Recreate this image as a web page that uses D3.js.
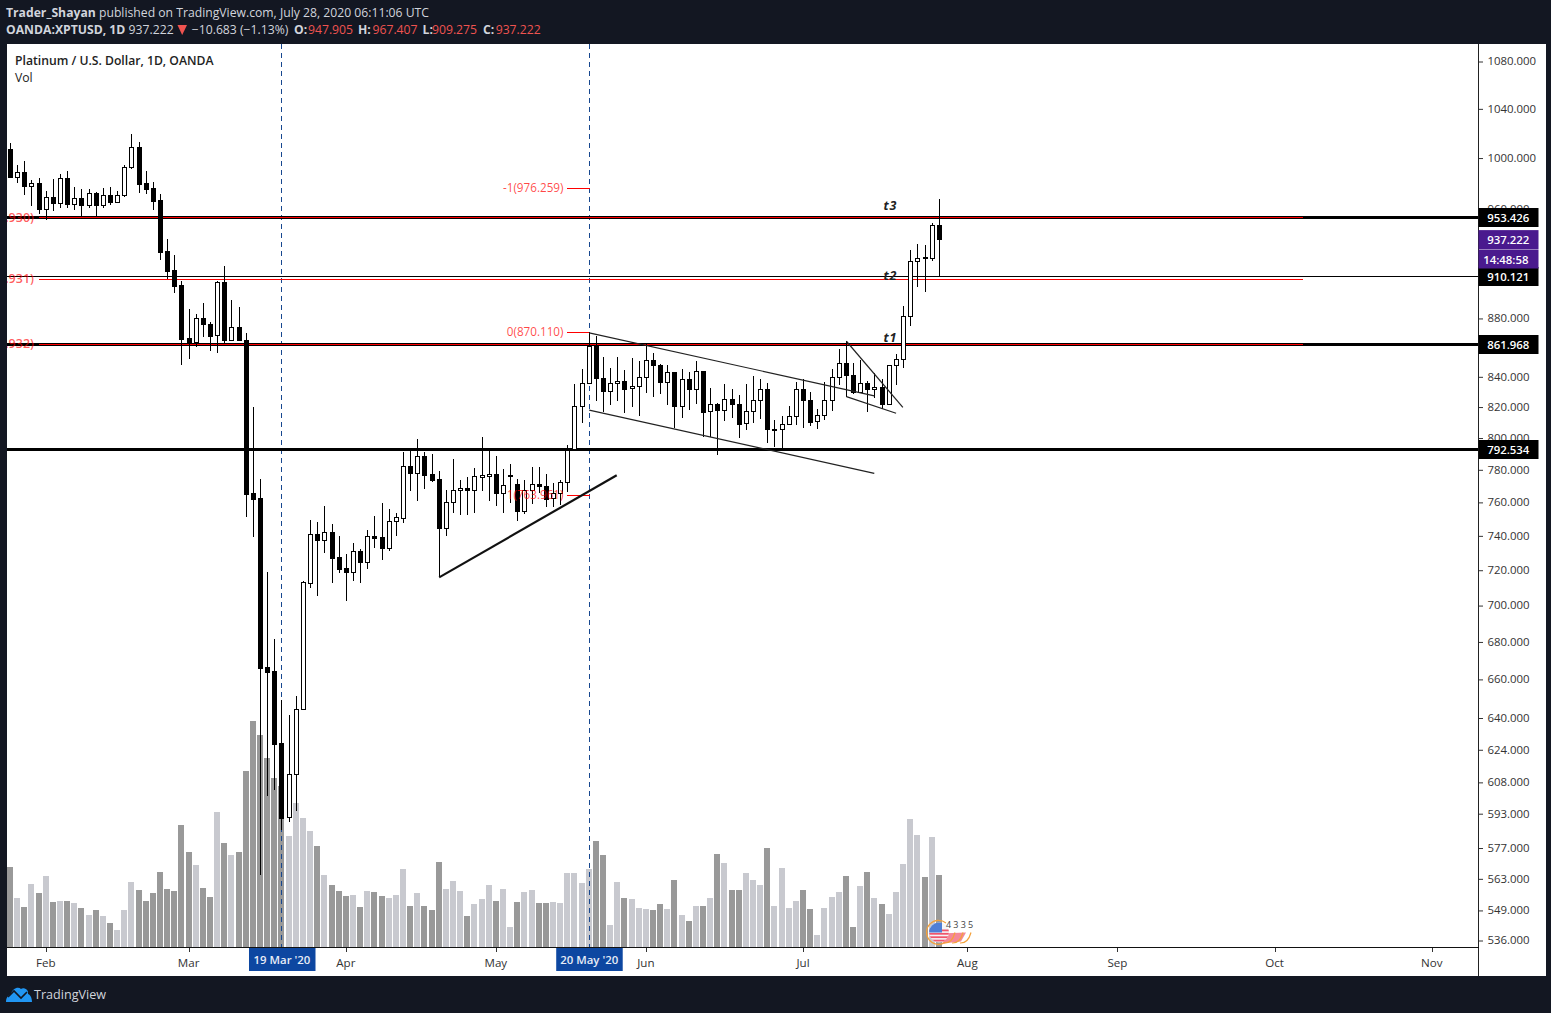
<!DOCTYPE html>
<html><head><meta charset="utf-8">
<script src="https://cdn.jsdelivr.net/npm/d3@7/dist/d3.min.js"></script>
<style>html,body{margin:0;padding:0;background:#131722;overflow:hidden}svg{display:block}text{font-family:"Open Sans",sans-serif}</style>
</head><body><svg id="c" width="1551" height="1013"></svg>
<script>
// daily bars, oldest first (27 Jan 2020 .. 28 Jul 2020)
const opens=[1006.6,984.9,988.4,977.9,979.7,960.1,968.8,964.7,983.6,963.9,968.1,963.1,971.9,963.1,970.4,965.4,970.4,992.3,1008.2,979.7,975.8,966.5,928.0,914.1,903.2,865.8,863.1,879.8,875.6,867.9,905.4,864.5,873.5,864.5,765.2,762.2,666.4,664.2,627.0,591.0,611.7,644.2,712.6,740.6,737.4,741.8,727.2,720.8,718.9,730.6,724.6,739.4,738.8,732.8,748.3,750.5,781.9,777.9,788.1,776.9,773.8,744.5,759.7,767.0,768.3,767.0,775.4,776.0,776.9,765.2,775.6,770.7,754.7,767.0,770.7,769.5,762.2,765.2,771.9,793.0,820.2,835.3,860.6,838.7,830.0,835.3,836.7,832.0,833.4,839.3,850.8,847.8,836.0,842.7,820.2,838.0,831.8,843.4,816.9,821.5,817.6,824.8,821.5,809.1,816.9,824.1,831.4,805.0,805.3,808.5,813.6,831.4,824.1,810.4,814.3,824.1,839.3,848.8,840.7,829.4,835.3,831.4,832.7,821.5,847.4,851.5,881.2,920.6,923.6,922.9,947.905];
const highs=[1011.5,993.9,997.0,982.0,983.6,973.7,982.8,986.8,989.1,976.6,975.0,975.0,972.7,975.8,976.6,973.5,993.9,1018.9,1012.3,989.1,980.5,971.2,936.9,925.1,906.1,886.1,882.6,890.5,877.0,906.1,917.0,892.5,887.5,869.3,819.5,773.8,718.5,681.1,649.0,641.1,650.9,713.7,748.9,747.7,757.3,746.5,739.4,728.9,735.3,731.8,743.0,751.3,759.1,755.5,753.1,790.6,791.5,798.9,790.6,789.4,778.8,767.0,786.2,773.2,775.0,780.6,800.1,791.7,788.1,780.0,783.1,773.8,773.2,781.2,781.6,776.9,771.3,773.2,795.1,834.7,844.7,870.2,867.4,852.8,845.4,852.8,844.0,852.1,850.1,861.9,855.6,848.2,847.4,843.0,844.7,842.7,850.1,843.8,832.0,822.1,834.7,831.4,827.8,834.7,840.0,838.0,835.3,811.0,813.6,820.2,836.4,838.0,829.4,818.2,836.0,844.7,858.3,863.8,848.8,850.8,836.7,842.0,838.0,847.6,855.1,888.2,928.8,933.2,932.5,949.0,967.407];
const lows=[984.4,980.2,970.9,962.1,956.3,951.7,958.3,960.6,960.6,959.1,954.0,960.6,954.0,960.6,963.1,964.7,969.3,991.2,972.4,971.6,959.3,921.6,907.7,897.9,847.8,851.9,860.1,866.9,857.3,856.0,862.8,863.8,863.8,751.1,739.2,564.5,601.3,604.1,585.1,589.0,594.2,644.0,709.8,705.2,729.8,712.6,718.3,702.4,713.7,712.6,720.6,732.8,725.8,731.0,739.8,747.5,766.8,760.7,768.0,772.3,715.7,739.8,753.5,752.3,752.3,753.5,766.8,760.7,757.7,753.5,759.5,748.7,752.9,758.7,765.2,757.1,757.1,758.3,766.2,792.8,809.1,835.0,823.8,816.3,820.8,823.8,816.0,819.9,814.1,828.9,826.1,828.0,821.2,805.9,812.7,818.0,821.9,800.5,800.5,788.7,810.8,812.5,799.5,804.8,809.5,812.1,796.7,794.2,793.4,808.2,808.2,806.3,807.4,805.7,811.4,817.3,834.0,826.3,828.0,829.1,816.6,825.4,818.2,821.2,834.4,845.8,874.6,901.8,898.2,921.1,909.275];
const closes=[984.9,988.4,977.9,979.7,960.1,968.8,964.7,983.6,963.9,968.1,963.1,971.9,963.1,970.4,965.4,970.4,992.3,1008.2,979.4,975.5,966.2,927.7,913.8,902.9,865.6,862.4,879.8,875.6,867.6,905.4,864.5,873.5,864.5,765.0,761.9,665.9,663.6,626.8,590.7,611.7,644.2,712.8,740.6,737.4,741.8,726.9,720.6,718.9,730.6,724.6,739.4,738.6,732.8,748.3,750.7,781.9,777.9,788.1,776.6,773.5,744.5,759.7,767.0,768.3,767.0,775.6,776.2,776.9,765.2,770.1,776.4,754.7,767.0,770.7,769.5,761.9,765.2,771.9,791.9,820.2,835.3,860.6,838.7,830.0,835.3,836.7,831.8,833.4,839.3,850.8,847.8,836.0,842.7,820.2,838.0,831.8,843.4,816.6,821.5,817.6,824.8,821.5,808.9,816.9,824.1,831.4,805.3,805.5,808.5,813.6,831.4,824.1,810.1,814.3,824.1,839.3,848.8,840.7,829.4,835.3,831.4,832.7,821.5,847.4,851.5,881.2,920.6,923.3,922.9,947.5,937.222];
const volumes=[80,49,40,63,54,71,45,46,46,44,39,32,37,31,24,17,37,65,57,46,54,75,58,56,122,95,82,59,50,135,104,92,95,176,226,212,189,169,161,111,144,129,116,101,72,62,56,51,52,40,56,55,51,49,52,78,41,54,41,37,85,58,66,56,31,43,48,62,46,58,20,45,55,57,44,44,45,44,74,74,64,78,106,92,22,65,49,48,39,38,37,43,38,67,32,26,41,41,49,93,84,57,57,74,67,62,99,41,79,39,46,57,38,12,39,50,55,71,20,61,75,49,43,33,55,83,128,112,70,110,72];
// axis labels
const timeTickBars=[5,25,47,68,89,111,134,155,177,199];
const timeTickLabels=["Feb","Mar","Apr","May","Jun","Jul","Aug","Sep","Oct","Nov"];
const priceTicks=[1080,1040,1000,960,880,840,820,800,780,760,740,720,700,680,660,640,624,608,593,577,563,549,536];
// drawn levels and notes
const resistanceLevels=[953.426,910.121,861.968,792.534];
const fibLevels=[976.259,870.110,763.961];
const fibTexts=["-1(976.259)","0(870.110)","1(763.961)"];
const redLevels=[953.2,907.5,861.6];
const redTexts=[".930)",".931)",".932)"];
const markedBars=[38,81];
const markedTexts=["19 Mar '20","20 May '20"];
const trendUp=[[60,715.6],[84.85,776.3]];
const channelUpper=[[81,869.6],[120.9,827.0]];
const channelLower=[[81,817.7],[120.9,777.5]];
const flagUpper=[[117,863.8],[124.9,819.5]];
const flagLower=[[117,826.5],[123.95,815.6]];
const targets=[["t3",122.2,962.2],["t2",122.2,909.8],["t1",122.2,866.2]];

const C={bg:"#131722",up:"#c8c9cf",down:"#999999",red:"#ff0000",blue:"#0d47a1",purple:"#4a1a8e",txt:"#333"};
const L={left:7,right:1478,top:44,base:947,strip:976,outer:1546};
const svg=d3.select("#c");
const x=d3.scaleLinear().domain([0,130]).range([10.5,939.3]);
const y=d3.scaleLog().domain([1080,536]).range([61,940]);
const v=d3.scaleLinear().domain([0,300]).range([L.base,L.base-300]);
const px=i=>Math.floor(x(i));
const bars=d3.range(opens.length).map(i=>({i,o:opens[i],h:highs[i],l:lows[i],c:closes[i],v:volumes[i]}));

svg.append("rect").attr("width",1551).attr("height",1013).attr("fill",C.bg);
svg.append("rect").attr("x",L.left).attr("y",L.top).attr("width",L.outer-L.left).attr("height",L.strip-L.top).attr("fill","#fff");
const defs=svg.append("defs");
defs.append("clipPath").attr("id","plot").append("rect").attr("x",L.left).attr("y",L.top).attr("width",L.right-L.left).attr("height",L.base-L.top);

// volume
const plot=svg.append("g").attr("clip-path","url(#plot)");
plot.append("g").selectAll("rect").data(bars).join("rect")
 .attr("x",d=>px(d.i)-3).attr("width",6).attr("y",d=>v(d.v)).attr("height",d=>L.base-v(d.v))
 .attr("fill",d=>d.c>=d.o?C.up:C.down);

// vertical markers
plot.append("g").selectAll("line").data(markedBars).join("line")
 .attr("x1",d=>px(d)+0.5).attr("x2",d=>px(d)+0.5).attr("y1",L.top).attr("y2",L.base)
 .attr("stroke","#17478f").attr("stroke-width",1).attr("stroke-dasharray","5,4");

// horizontal levels: black
const wid=[3,1,3,3];
plot.append("g").selectAll("line").data(resistanceLevels).join("line")
 .attr("x1",L.left).attr("x2",L.right)
 .attr("y1",d=>Math.round(y(d))+0.5).attr("y2",d=>Math.round(y(d))+0.5)
 .attr("stroke","#000").attr("stroke-width",(d,i)=>wid[i]);
// red levels
plot.append("g").selectAll("line").data(redLevels).join("line")
 .attr("x1",39).attr("x2",1303).attr("y1",d=>Math.floor(y(d))+0.5).attr("y2",d=>Math.floor(y(d))+0.5)
 .attr("stroke",C.red).attr("stroke-width",1);
plot.append("g").selectAll("text").data(redLevels).join("text")
 .attr("x",34).attr("y",d=>y(d)+4).attr("text-anchor","end").attr("font-size",12.5).attr("font-weight",600).attr("fill",C.red).attr("fill-opacity",.65)
 .text((d,i)=>redTexts[i]);

// fib lines
plot.append("g").selectAll("line").data(fibLevels).join("line")
 .attr("x1",567).attr("x2",px(81)+1).attr("y1",d=>Math.round(y(d))+0.5).attr("y2",d=>Math.round(y(d))+0.5)
 .attr("stroke",C.red).attr("stroke-width",1).attr("shape-rendering","crispEdges");

// candles
const cg=plot.append("g");
cg.selectAll("line").data(bars).join("line")
 .attr("x1",d=>px(d.i)+0.5).attr("x2",d=>px(d.i)+0.5).attr("y1",d=>Math.round(y(d.h))).attr("y2",d=>Math.round(y(d.l)))
 .attr("stroke","#000").attr("stroke-width",1);
cg.selectAll("rect").data(bars).join("rect")
 .attr("x",d=>px(d.i)-1.5).attr("width",4)
 .attr("y",d=>Math.round(y(Math.max(d.o,d.c)))+0.5)
 .attr("height",d=>Math.max(1,Math.round(y(Math.min(d.o,d.c)))-Math.round(y(Math.max(d.o,d.c)))))
 .attr("fill",d=>d.c>=d.o?"#fff":"#000").attr("stroke","#000").attr("stroke-width",1);

plot.append("g").selectAll("text").data(fibLevels).join("text")
 .attr("x",563.5).attr("y",d=>y(d)+4).attr("text-anchor","end").attr("font-size",11.7).attr("font-weight",500).attr("fill",C.red).attr("fill-opacity",.72)
 .text((d,i)=>fibTexts[i]);

// drawn trend lines
const seg=d3.line().x(d=>x(d[0])).y(d=>y(d[1]));
plot.append("path").attr("d",seg(trendUp)).attr("fill","none").attr("stroke","#111").attr("stroke-width",2.2);
[channelUpper,channelLower,flagUpper,flagLower].forEach(p=>plot.append("path").attr("d",seg(p)).attr("fill","none").attr("stroke","#222").attr("stroke-width",1.2));

// target notes
plot.append("g").selectAll("text").data(targets).join("text")
 .attr("x",d=>x(d[1])).attr("y",d=>y(d[2])+4).attr("font-size",12.5).attr("font-weight",700).attr("font-style","italic")
 .attr("letter-spacing",.9).attr("fill","#222").text(d=>d[0]);

// little flag badge
const b=svg.append("g").attr("transform","translate(939,932.5)");
b.append("clipPath").attr("id","flagc").append("circle").attr("r",10);
b.append("path").attr("d","M0,1 L27,0 L22,9 L4,11 Z").attr("fill","#f0566c").attr("fill-opacity",.7);
const fg=b.append("g").attr("clip-path","url(#flagc)");
fg.append("rect").attr("x",-11).attr("y",-11).attr("width",22).attr("height",22).attr("fill","#f4f5f8");
d3.range(4).forEach(k=>fg.append("rect").attr("x",-11).attr("y",-3+k*3.4).attr("width",22).attr("height",1.8).attr("fill","#f0566c"));
fg.append("rect").attr("x",-11).attr("y",-11).attr("width",14).attr("height",11).attr("fill","#4f7fd6");
b.append("path").attr("d","M7,-9.5 A12,12 0 1 0 6,10").attr("fill","none").attr("stroke","#f4a13a").attr("stroke-width",1.2);
[14,22,30].forEach(dx=>b.append("path").attr("d",`M${dx-9},10.5 Q${dx-1},11 ${dx+2},0`).attr("fill","none").attr("stroke","#f4a13a").attr("stroke-width",1.2));
b.append("text").attr("x",7).attr("y",-4.5).attr("font-size",9).attr("letter-spacing",2.2).attr("fill","#444").text("4335");

// price axis
svg.append("line").attr("x1",L.right+0.5).attr("x2",L.right+0.5).attr("y1",L.top).attr("y2",L.strip).attr("stroke","#222");
const ax=svg.append("g").attr("transform",`translate(${L.right+1},0)`)
 .call(d3.axisRight(y).tickValues(priceTicks).tickSize(4).tickPadding(4.5).tickFormat(d3.format(".3f")));
ax.select(".domain").remove();
ax.selectAll("line").attr("stroke","#333").attr("y1",.5).attr("y2",.5);
ax.selectAll("text").attr("font-size",11.4).attr("fill",C.txt).attr("font-family",'"Open Sans",sans-serif').attr("dy","0.34em");

// time axis
svg.append("line").attr("x1",L.left).attr("x2",L.right+1).attr("y1",L.base+0.5).attr("y2",L.base+0.5).attr("stroke","#111");
const tg=svg.append("g").selectAll("g").data(timeTickBars).join("g");
tg.append("line").attr("x1",d=>px(d)+0.5).attr("x2",d=>px(d)+0.5).attr("y1",L.base+1).attr("y2",L.base+5).attr("stroke","#333");
tg.append("text").attr("x",d=>x(d)-0.5).attr("y",967).attr("text-anchor","middle").attr("font-size",11.6).attr("fill",C.txt).text((d,i)=>timeTickLabels[i]);

// marked date boxes
const mb=svg.append("g").selectAll("g").data(markedBars).join("g");
mb.append("rect").attr("x",d=>x(d)-33).attr("y",L.base+1).attr("width",66.5).attr("height",23).attr("fill",C.blue);
mb.append("text").attr("x",d=>x(d)).attr("y",964).attr("text-anchor","middle").attr("font-size",11.4).attr("font-weight",600).attr("fill","#e8edf7").text((d,i)=>markedTexts[i]);

// price labels
function tag(cy,txt,fill){
 const g=svg.append("g");
 g.append("rect").attr("x",L.right+0.5).attr("y",cy-9.5).attr("width",60).attr("height",19).attr("fill",fill);
 g.append("text").attr("x",1487.2).attr("y",cy+4).attr("font-size",11.4).attr("font-weight",600).attr("fill","#fff").text(txt);
}
resistanceLevels.forEach(d=>tag(Math.round(y(d))+0.5,d3.format(".3f")(d),"#000"));
tag(y(closes[130])+0.7,d3.format(".3f")(closes[130]),C.purple);
const cd=svg.append("g");
cd.append("rect").attr("x",L.right+0.5).attr("y",249.5).attr("width",60).attr("height",19).attr("fill",C.purple);
cd.append("text").attr("x",1483.2).attr("y",263.5).attr("font-size",11.4).attr("font-weight",600).attr("fill","#fff").text("14:48:58");

// header
const hd=svg.append("g").attr("font-size",12.2);
const l1=hd.append("text").attr("x",6).attr("y",17).attr("fill","#d1d4dc");
l1.append("tspan").attr("font-weight",700).text("Trader_Shayan");
l1.append("tspan").text(" published on TradingView.com, July 28, 2020 06:11:06 UTC");
const l2=hd.append("text").attr("y",34).attr("fill","#d1d4dc");
const headParts=[["OANDA:XPTUSD, 1D",6,700,null],["937.222",128.6,400,null],["−10.683 (−1.13%)",191.8,400,null],
 ["O:",294,700,null],["947.905",308,400,"#ef5350"],["H:",358,700,null],["967.407",372.5,400,"#ef5350"],
 ["L:",422.5,700,null],["909.275",432,400,"#ef5350"],["C:",483,700,null],["937.222",495.7,400,"#ef5350"]];
headParts.forEach(p=>{const t=l2.append("tspan").attr("x",p[1]).attr("font-weight",p[2]).text(p[0]); if(p[3])t.attr("fill",p[3]);});
svg.append("path").attr("d","M177.5,25 L187,25 L182.2,35 Z").attr("fill","#ef5350");
svg.append("text").attr("x",15).attr("y",65).attr("font-size",12.2).attr("font-weight",600).attr("fill","#222").text("Platinum / U.S. Dollar, 1D, OANDA");
svg.append("text").attr("x",15).attr("y",82).attr("font-size",12.2).attr("fill","#222").text("Vol");

// footer brand
svg.append("path").attr("d","M6,1002 C6,997 9,995 11,994 C12,989 18,986 21,989 C23,987 29,989 28,994 C31,995 32,999 32,1002 Z").attr("fill","#2196f3");
svg.append("path").attr("d","M8,997 L14,991 L21,998 L27,992").attr("fill","none").attr("stroke",C.bg).attr("stroke-width",1.6);
svg.append("text").attr("x",34).attr("y",999.3).attr("font-size",12.6).attr("fill","#d1d4dc").text("TradingView");
</script></body></html>
